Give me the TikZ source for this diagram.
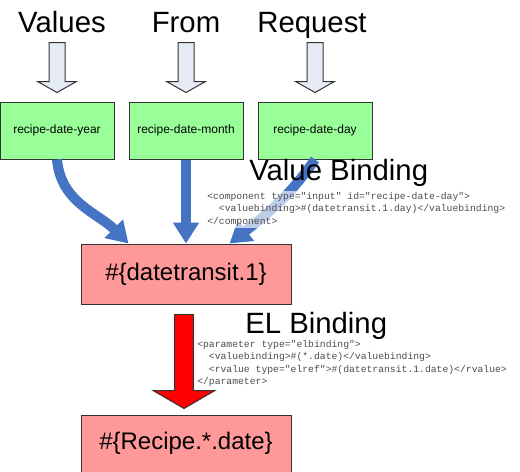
\documentclass[tikz,border=0pt]{standalone}
\usepackage{fontspec}
\setmainfont{Liberation Sans}
\setmonofont{Liberation Mono}
\usepackage{tikz}
\usetikzlibrary{arrows.meta,positioning,calc}
\definecolor{greenbox}{HTML}{99FF99}
\definecolor{redbox}{HTML}{FF9999}
\definecolor{bindblue}{HTML}{4674C4}
\definecolor{paleblue}{HTML}{E6ECF6}
\definecolor{edge}{HTML}{333333}
\definecolor{codegray}{HTML}{4D4D4D}

\begin{document}
\begin{tikzpicture}[
  x=0.75pt,y=-0.75pt,
  head/.style={font=\fontsize{22}{26}\selectfont,anchor=base,inner sep=0pt},
  field/.style={draw=edge,line width=0.75pt,fill=greenbox,minimum width=85.5pt,minimum height=42.75pt,font=\fontsize{9}{11}\selectfont,inner sep=0pt},
  expr/.style={draw=edge,line width=0.75pt,fill=redbox,minimum width=157.5pt,minimum height=45pt,font=\fontsize{18}{22}\selectfont,inner sep=0pt},
  title/.style={font=\fontsize{22}{26}\selectfont,anchor=base west,inner sep=0pt},
  code/.style={font=\ttfamily\fontsize{7.3}{9.1}\selectfont,text=codegray,align=left,anchor=north west,inner sep=1.5pt,fill=white,fill opacity=0.65,text opacity=1},
  hollow/.style={draw=edge,line width=0.75pt,fill=paleblue},
  bind/.style={draw=bindblue,line width=7.5pt,-{Triangle[length=15.75pt,width=18.75pt]}},
  elarrow/.style={draw=edge,line width=0.75pt,fill=red}
]
\useasboundingbox (0,0) rectangle (520,471);
% request fields
\node[head] (hv) at (62,32) {Values};
\node[head] (hf) at (186,32) {From};
\node[head] (hr) at (312,32) {Request};
\node[field] (gy) at (57,130.5) {recipe-date-year};
\node[field,right=10.5pt of gy] (gm) {recipe-date-month};
\node[field,right=10.5pt of gm] (gd) {recipe-date-day};
\foreach \b in {gy,gm,gd}
  \draw[hollow] let \p1=(\b.north) in
    (\x1-6pt,\y1+44.25pt) -- (\x1+6pt,\y1+44.25pt) -- (\x1+6pt,\y1+15pt) -- (\x1+14.6pt,\y1+15pt)
    -- (\x1,\y1+6.75pt) -- (\x1-14.6pt,\y1+15pt) -- (\x1-6pt,\y1+15pt) -- cycle;
% bean expressions
\node[expr,below=63pt of gm] (dt) {\#\{datetransit.1\}};
\node[expr,below=82.5pt of dt,minimum height=42.75pt] (rp) {\#\{Recipe.*.date\}};
\draw[bind] (gy.south) to[out=-85,in=135] ($(dt.north)+(-57.5,0)$);
\draw[bind] (gm.south) -- (gm.south |- dt.north);
\draw[bind] (gd.south) to[out=-125,in=38] ($(dt.north)+(43.5,0)$);
\draw[elarrow] let \p1=(dt.south), \p2=(rp.north) in
  (\x1-8.6pt,\y1-7.5pt) -- (\x1+5.6pt,\y1-7.5pt) -- (\x1+5.6pt,\y2+18pt) -- (\x1+21.75pt,\y2+18pt)
  -- (\x1-1.5pt,\y2+4.5pt) -- (\x1-24.75pt,\y2+18pt) -- (\x1-8.6pt,\y2+18pt) -- cycle;
% binding notes
\node[title] (vb) at (249,180) {Value Binding};
\node[code] (vc) at (205,190.5) {<component type="input" id="recipe-date-day">\\
\ \ <valuebinding>\#(datetransit.1.day)</valuebinding>\\
</component>};
\node[title] (eb) at (245,333) {EL Binding};
\node[code] (ec) at (195,338.5) {<parameter type="elbinding">\\
\ \ <valuebinding>\#(*.date)</valuebinding>\\
\ \ <rvalue type="elref">\#(datetransit.1.date)</rvalue>\\
</parameter>};
\end{tikzpicture}
\end{document}
